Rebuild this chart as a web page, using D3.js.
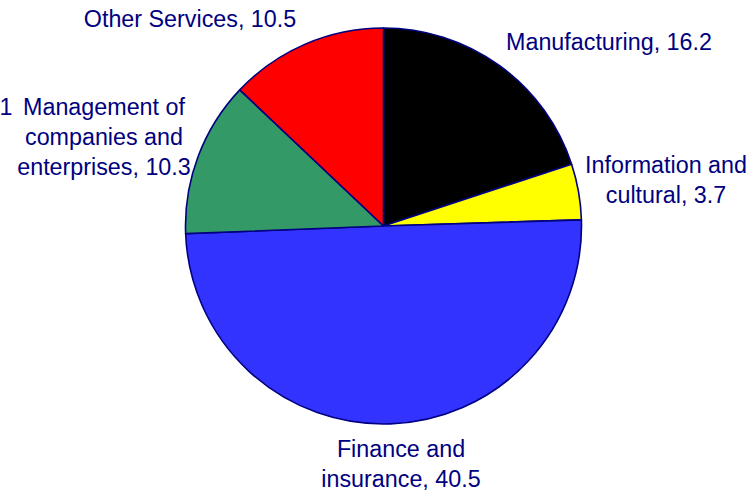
<!DOCTYPE html>
<html><head><meta charset="utf-8">
<script src="https://cdn.jsdelivr.net/npm/d3@7"></script>
<style>html,body{margin:0;padding:0;background:#fff;}svg{display:block;}</style>
</head><body>
<script>
const categories = ["Manufacturing", "Information and cultural", "Finance and insurance", "Management of companies and enterprises", "Other Services"];
const values = [16.2, 3.7, 40.5, 10.3, 10.5];
const colors = ["#000000", "#FFFF00", "#3333FF", "#339966", "#FF0000"];
const labelLines = [
  ["Manufacturing, 16.2"],
  ["Information and", "cultural, 3.7"],
  ["Finance and", "insurance, 40.5"],
  ["Management of", "companies and", "enterprises, 10.3"],
  ["Other Services, 10.5"]
];

const W = 754, H = 492;
const cx = 383.5, cy = 226, R = 198;
// label anchor (center x, first baseline y)
const labelPos = [[609, 50], [666, 173], [401, 457], [104, 115], [190, 27]];

const svg = d3.select("body").append("svg").attr("width", W).attr("height", H);
const g = svg.append("g").attr("transform", `translate(${cx},${cy})`);
const data = categories.map((c, i) => ({c, v: values[i], i}));
const pie = d3.pie().sort(null).value(d => d.v);
const arc = d3.arc().innerRadius(0).outerRadius(R);
g.selectAll("path").data(pie(data)).join("path")
  .attr("d", arc)
  .attr("fill", d => colors[d.data.i])
  .attr("stroke", "#000080")
  .attr("stroke-width", 1.6)
  .attr("stroke-linejoin", "round");

const font = "'Liberation Sans', Arial, sans-serif";
data.forEach((d, i) => {
  const t = svg.append("text")
    .attr("x", labelPos[i][0]).attr("y", labelPos[i][1])
    .attr("text-anchor", "middle")
    .attr("font-family", font).attr("font-size", 23.3)
    .attr("fill", "#000080");
  labelLines[i].forEach((ln, j) => {
    t.append("tspan").attr("x", labelPos[i][0]).attr("dy", j === 0 ? 0 : 30).text(ln);
  });
});
svg.append("text").attr("x", 6).attr("y", 115).attr("text-anchor", "middle")
  .attr("font-family", font).attr("font-size", 23.3).attr("fill", "#000080").text("1");
</script>
</body></html>
